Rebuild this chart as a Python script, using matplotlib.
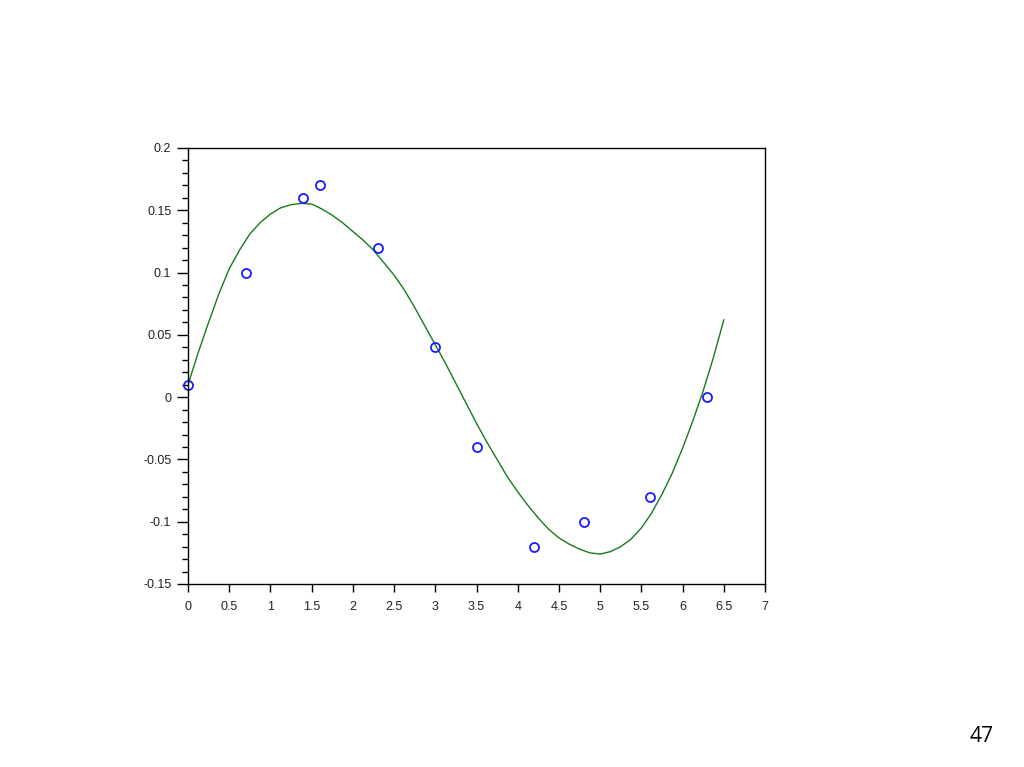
import numpy as np
import matplotlib
matplotlib.use("Agg")
from matplotlib import pyplot as plt
from matplotlib import ticker

# measured points (blue circles)
x_pts = [0.0, 0.7, 1.4, 1.6, 2.3, 3.0, 3.5, 4.2, 4.8, 5.6, 6.3]
y_pts = [0.01, 0.10, 0.16, 0.17, 0.12, 0.04, -0.04, -0.12, -0.10, -0.08, 0.0]

# fitted curve (step 0.125)
x_fit = [0.0, 0.125, 0.25, 0.375, 0.5, 0.625, 0.75, 0.875, 1.0, 1.125, 1.25, 1.375,
         1.5, 1.625, 1.75, 1.875, 2.0, 2.125, 2.25, 2.375, 2.5, 2.625, 2.75, 2.875,
         3.0, 3.125, 3.25, 3.375, 3.5, 3.625, 3.75, 3.875, 4.0, 4.125, 4.25, 4.375,
         4.5, 4.625, 4.75, 4.875, 5.0, 5.125, 5.25, 5.375, 5.5, 5.625, 5.75, 5.875,
         6.0, 6.125, 6.25, 6.375, 6.5]
y_fit = [0.010, 0.036, 0.060, 0.083, 0.103, 0.118, 0.131, 0.140, 0.147, 0.152, 0.1545, 0.1555,
         0.155, 0.151, 0.146, 0.140, 0.133, 0.126, 0.118, 0.108, 0.098, 0.086, 0.072, 0.057,
         0.042, 0.027, 0.011, -0.005, -0.021, -0.036, -0.050, -0.064, -0.076, -0.087, -0.097, -0.106,
         -0.113, -0.118, -0.122, -0.125, -0.126, -0.124, -0.120, -0.114, -0.105, -0.093, -0.078, -0.061,
         -0.041, -0.019, 0.005, 0.032, 0.062]

plt.rcParams['font.family'] = ['Liberation Sans', 'DejaVu Sans']

fig = plt.figure(figsize=(10.24, 7.67), dpi=100)
ax = fig.add_axes([188 / 1024, 183 / 767, 577 / 1024, 436 / 767])

ax.plot(x_fit, y_fit, color='#1a7a1a', linewidth=1.0)
ax.plot(x_pts, y_pts, 'o', markerfacecolor='none', markeredgecolor='#1a1aff',
        markersize=6.5, markeredgewidth=1.3, clip_on=False)

ax.set_xlim(0, 7)
ax.set_ylim(-0.15, 0.2)
ax.xaxis.set_major_locator(ticker.MultipleLocator(0.5))
ax.yaxis.set_major_locator(ticker.MultipleLocator(0.05))
ax.yaxis.set_minor_locator(ticker.MultipleLocator(0.01))
fmt = ticker.FuncFormatter(lambda v, p: '%g' % round(v, 3))
ax.xaxis.set_major_formatter(fmt)
ax.yaxis.set_major_formatter(fmt)

ax.tick_params(axis='both', which='major', direction='out', labelsize=9,
               width=1.0, colors='black', labelcolor='#222222')
ax.tick_params(axis='y', which='major', length=8, pad=4)
ax.tick_params(axis='y', which='minor', length=4, width=1.0, direction='out')
ax.tick_params(axis='x', which='major', length=6, pad=6)
for s in ax.spines.values():
    s.set_linewidth(1.0)

fig.text(982 / 1024, 1 - 736 / 767, '47', fontsize=15, ha='center', va='center',
         family=['Open Sans', 'DejaVu Sans'])

fig.savefig('out.png', dpi=100)
